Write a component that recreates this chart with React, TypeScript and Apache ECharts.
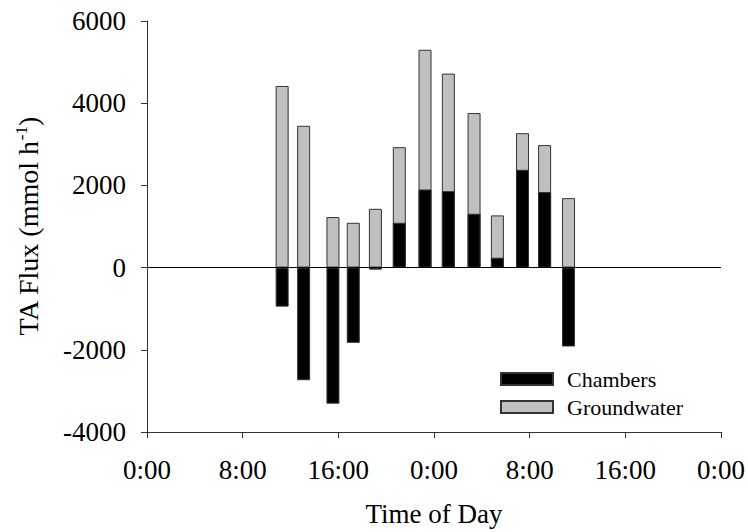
import React, { useEffect, useRef } from "react";
import * as echarts from "echarts";

// Time of sampling, hours since the first 0:00 on the axis
const hours = [11.3, 13.1, 15.55, 17.25, 19.1, 21.1, 23.25, 25.2, 27.35, 29.3, 31.4, 33.25, 35.25];
// TA flux, mmol h-1
const chambers = [-950, -2740, -3310, -1830, -50, 1090, 1900, 1860, 1310, 240, 2380, 1840, -1920];
const groundwater = [4420, 3450, 1230, 1090, 1430, 1840, 3400, 2860, 2450, 1030, 890, 1140, 1690];
const seriesNames = ["Chambers", "Groundwater"];
const xMin = 0;
const xMax = 48;
const xStep = 8;
const yMin = -4000;
const yMax = 6000;
const yStep = 2000;

const FONT = "'Liberation Serif', 'Times New Roman', serif";

export default function App() {
  const ref = useRef<HTMLDivElement>(null);
  useEffect(() => {
    document.body.style.margin = "0";
    if (!ref.current) return;
    const chart = echarts.init(ref.current, undefined, { renderer: "svg" });
    const axisColor = "#333";
    // Groundwater sits on top of positive chamber fluxes (stacked bars)
    const groundwaterTop = groundwater.map((g, i) => g + Math.max(chambers[i], 0));
    chart.setOption({
      animation: false,
      backgroundColor: "#ffffff",
      textStyle: { fontFamily: FONT, color: "#000" },
      grid: { left: 147, right: 26, top: 21, bottom: 100, containLabel: false },
      legend: {
        orient: "vertical",
        left: 500,
        top: 368,
        padding: 0,
        itemWidth: 52,
        itemHeight: 12,
        itemGap: 6,
        icon: "rect",
        data: seriesNames,
        textStyle: { fontFamily: FONT, fontSize: 22, color: "#000", padding: [0, 0, 0, 9] },
      },
      xAxis: {
        type: "value",
        min: xMin,
        max: xMax,
        interval: xStep,
        name: "Time of Day",
        nameLocation: "middle",
        nameGap: 68,
        nameTextStyle: { fontFamily: FONT, fontSize: 27, color: "#000" },
        axisLine: { onZero: false, lineStyle: { color: axisColor, width: 1 } },
        axisTick: { show: true, length: 6, lineStyle: { color: axisColor } },
        axisLabel: {
          margin: 24,
          fontFamily: FONT,
          fontSize: 27,
          color: "#000",
          formatter: (v: number) => `${Math.round(v) % 24}:00`,
        },
        splitLine: { show: false },
      },
      yAxis: {
        type: "value",
        min: yMin,
        max: yMax,
        interval: yStep,
        name: "{n|TA Flux (mmol h}{sup|-1}{n|)}",
        nameLocation: "middle",
        nameGap: 103,
        nameRotate: 90,
        nameTextStyle: {
          fontFamily: FONT,
          fontSize: 28,
          color: "#000",
          rich: {
            n: { fontFamily: FONT, fontSize: 28, color: "#000" },
            sup: { fontFamily: FONT, fontSize: 17, color: "#000", padding: [0, 0, 14, 0] },
          },
        },
        axisLine: { show: true, lineStyle: { color: axisColor, width: 1 } },
        axisTick: { show: true, length: 6, lineStyle: { color: axisColor } },
        axisLabel: {
          margin: 21,
          fontFamily: FONT,
          fontSize: 27,
          color: "#000",
          formatter: (v: number) => String(v),
        },
        splitLine: { show: false },
      },
      series: [
        {
          name: seriesNames[1],
          type: "bar",
          barWidth: 13,
          barGap: "-100%",
          data: hours.map((h, i) => [h, groundwaterTop[i]]),
          itemStyle: { color: "#c0c0c0", borderColor: "#333", borderWidth: 1 },
          z: 2,
        },
        {
          name: seriesNames[0],
          type: "bar",
          barWidth: 13,
          barGap: "-100%",
          data: hours.map((h, i) => [h, chambers[i]]),
          itemStyle: { color: "#000000", borderColor: "#333", borderWidth: 1 },
          z: 3,
          markLine: {
            silent: true,
            symbol: ["none", "none"],
            label: { show: false },
            lineStyle: { color: "#000", width: 1, type: "solid" },
            data: [{ yAxis: 0 }],
          },
        },
      ],
    });
    return () => chart.dispose();
  }, []);
  return <div ref={ref} style={{ width: 748, height: 532 }} />;
}
